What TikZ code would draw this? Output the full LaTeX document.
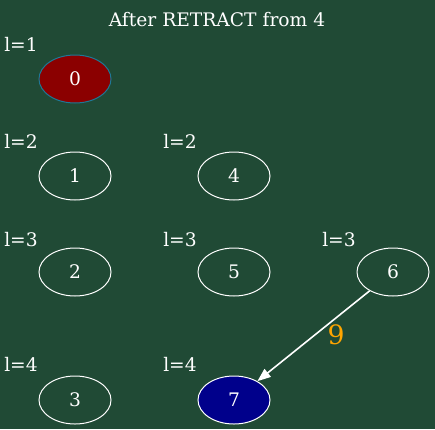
\documentclass[tikz,border=0pt]{standalone}
\usepackage{fontspec}
\setmainfont{DejaVu Serif}
\usetikzlibrary{shapes.geometric,arrows.meta}
\definecolor{board}{RGB}{32,74,53}
\definecolor{rootred}{RGB}{139,0,0}
\definecolor{rootedge}{RGB}{30,120,150}
\definecolor{newblue}{RGB}{0,0,139}
\definecolor{wlabel}{RGB}{255,165,0}
\tikzset{
  vertex/.style={ellipse, draw=white, line width=0.75pt, minimum width=54pt, minimum height=36pt, inner sep=0pt, text=white, font=\fontsize{14pt}{16pt}\selectfont},
  level/.style={anchor=base west, inner sep=0pt, text=white, font=\fontsize{14pt}{16pt}\selectfont}
}
\begin{document}
\begin{tikzpicture}[x=0.75pt, y=-0.75pt]
\fill[board] (0,0) rectangle (435,429);
\useasboundingbox (0,0) rectangle (435,429);
\node[anchor=base, inner sep=0pt, text=white, font=\fontsize{14pt}{16pt}\selectfont] (title) at (217,26) {After RETRACT from 4};
% levels
\node[level] (lev1) at (4,51) {l=1};
\node[level] (lev2a) at (4,148) {l=2};
\node[level] (lev2b) at (163,148) {l=2};
\node[level] (lev3a) at (4,246) {l=3};
\node[level] (lev3b) at (163,246) {l=3};
\node[level] (lev3c) at (322,246) {l=3};
\node[level] (lev4a) at (4,371) {l=4};
\node[level] (lev4b) at (163,371) {l=4};
% vertices
\node[vertex, fill=rootred, draw=rootedge] (v0) at (75,79) {0};
\node[vertex] (v1) at (75,176) {1};
\node[vertex] (v4) at (234,176) {4};
\node[vertex] (v2) at (75,272) {2};
\node[vertex] (v5) at (234,272) {5};
\node[vertex] (v6) at (393,272) {6};
\node[vertex] (v3) at (75,400) {3};
\node[vertex, fill=newblue] (v7) at (234,400) {7};
\draw[white, line width=1.2pt, -{Triangle[length=10pt,width=7.5pt]}] (v6) -- (v7);
\node[text=wlabel, font=\fontsize{20pt}{22pt}\selectfont, inner sep=0pt] (w67) at (336,335) {9};
\end{tikzpicture}
\end{document}
